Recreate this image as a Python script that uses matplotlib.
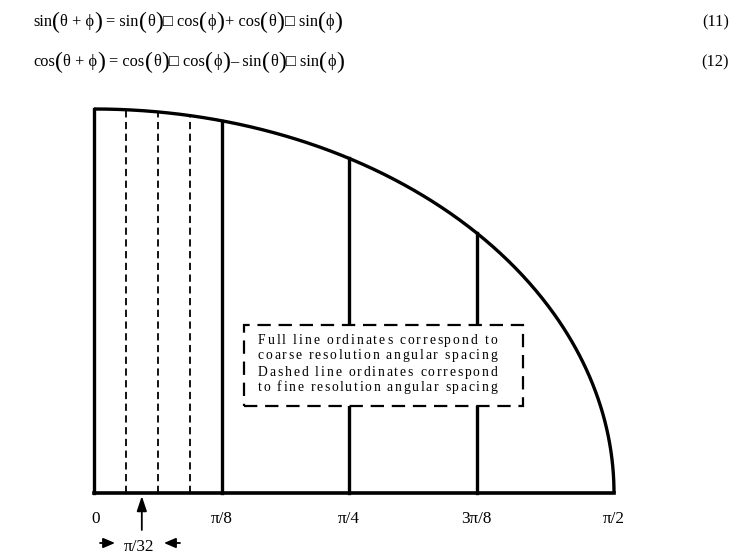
import numpy as np
import matplotlib
matplotlib.use("Agg")
import matplotlib.pyplot as plt
from matplotlib.patches import Rectangle

serif = ["Liberation Serif", "DejaVu Serif", "DejaVu Sans"]
plt.rcParams["font.family"] = serif

# angles of the ordinates
coarse = [0, np.pi / 8, np.pi / 4, 3 * np.pi / 8]
fine = [np.pi / 32, 2 * np.pi / 32, 3 * np.pi / 32]
tick_pos = [0, np.pi / 8, np.pi / 4, 3 * np.pi / 8]
tick_lab = ["0", "\u03c0/8", "\u03c0/4", "3\u03c0/8"]
end_lab = "\u03c0/2"
note = ["Full line ordinates correspond to",
        "coarse resolution angular spacing",
        "Dashed line ordinates correspond",
        "to fine resolution angular spacing"]
eq1 = ["sin", "(", "\u03b8 + \u03d5", ")", " = sin", "(", "\u03b8", ")", "\u25a1 cos", "(", "\u03d5", ")",
       "+ cos", "(", "\u03b8", ")", "\u25a1 sin", "(", "\u03d5", ")"]
eq2 = ["cos", "(", "\u03b8 + \u03d5", ")", " = cos", "(", "\u03b8", ")", "\u25a1 cos", "(", "\u03d5", ")",
       "\u2013 sin", "(", "\u03b8", ")", "\u25a1 sin", "(", "\u03d5", ")"]

W, H = 748, 558
fig = plt.figure(figsize=(W / 100, H / 100), dpi=100)
rend = fig.canvas.get_renderer()

# the drawn quarter ellipse runs a little past pi/2 in the original sketch
xend = np.pi / 2 * 520 / 510


def fx(px):
    return px / W


def fy(py):
    return (H - py) / H


def ordinate(a):
    return np.sqrt(max(0.0, 1 - (a / xend) ** 2))


def put_pieces(pieces, x0, y, size):
    # equation drawn piece by piece so that the brackets can be taller
    x = x0
    for p in pieces:
        big = p in "()"
        s = p.lstrip(" ")
        x += (len(p) - len(s)) * 3.5
        t = fig.text(fx(x), fy(y), s, fontsize=size * 1.45 if big else size,
                     va="center", ha="left")
        x += t.get_window_extent(rend).width + (0.5 if big else 0)


def justify(line, x0, x1, y, size):
    # spread the letters over the full width, like the stretched original
    texts = [fig.text(0, fy(y), ch, fontsize=size, va="baseline", ha="left") for ch in line]
    widths = []
    for ch, t in zip(line, texts):
        widths.append(size * 100 / 72 * 0.25 if ch == " " else t.get_window_extent(rend).width)
    gap = (x1 - x0 - sum(widths)) / (len(line) - 1)
    x = x0
    for t, w in zip(texts, widths):
        t.set_x(fx(x))
        x += w + gap


put_pieces(eq1, 33, 22, 11.8)
put_pieces(eq2, 33, 62, 11.8)
fig.text(fx(729), fy(22), "(11)", fontsize=11.8, ha="right", va="center")
fig.text(fx(729), fy(62), "(12)", fontsize=11.8, ha="right", va="center")

ax = fig.add_axes([fx(94), fy(493), 520 / W, 384 / H])
ax.set_xlim(0, xend)
ax.set_ylim(0, 1)
ax.axis("off")

t = np.linspace(0, np.pi / 2, 400)
ax.plot(xend * np.sin(t), np.cos(t), color="black", lw=2.4, clip_on=False,
        solid_capstyle="butt")
ax.plot([0, xend], [0, 0], color="black", lw=2.6, clip_on=False, solid_capstyle="projecting")
for a in coarse:
    ax.plot([a, a], [0, ordinate(a)], color="black", lw=2.4, clip_on=False,
            solid_capstyle="projecting")
for a in fine:
    ax.plot([a, a], [0, ordinate(a)], color="black", lw=1.3, ls=(0, (4, 2.5)), clip_on=False)

# note box
px = xend / 520
bx0, bx1 = 150 * px, 429 * px
by0 = (493 - 406) / 384
by1 = (493 - 325) / 384
ax.add_patch(Rectangle((bx0, by0), bx1 - bx0, by1 - by0, facecolor="white", edgecolor="black",
                       lw=1.6, ls=(0, (6, 3.5)), zorder=5))
for line, yy in zip(note, [344, 359, 376, 391]):
    justify(line, 258, 497, yy, 9.8)

tr = ax.get_xaxis_transform()
for p, lab in zip(tick_pos + [xend], tick_lab + [end_lab]):
    ax.text(p + (2 * px if p == 0 else 0), -26 / 384, lab, transform=tr, fontsize=12.3,
            ha="center", va="center", clip_on=False)

mid = 3 * np.pi / 64
big_head = "-|>,head_length=0.9,head_width=0.3"
small_head = "-|>,head_length=0.7,head_width=0.3"
ax.annotate("", xy=(mid, -3 / 384), xytext=(mid, -37 / 384), xycoords=tr, textcoords=tr,
            arrowprops=dict(arrowstyle=big_head, color="black", lw=1.3, shrinkA=0, shrinkB=0))
ax.text(mid - 3 * px, -54 / 384, "\u03c0/32", transform=tr, fontsize=12.3,
        ha="center", va="center")
ax.annotate("", xy=(21 * px, -50 / 384), xytext=(6 * px, -50 / 384), xycoords=tr, textcoords=tr,
            arrowprops=dict(arrowstyle=small_head, color="black", lw=1.3, shrinkA=0, shrinkB=0))
ax.annotate("", xy=(70 * px, -50 / 384), xytext=(86 * px, -50 / 384), xycoords=tr, textcoords=tr,
            arrowprops=dict(arrowstyle=small_head, color="black", lw=1.3, shrinkA=0, shrinkB=0))

fig.savefig("out.png", dpi=100)
